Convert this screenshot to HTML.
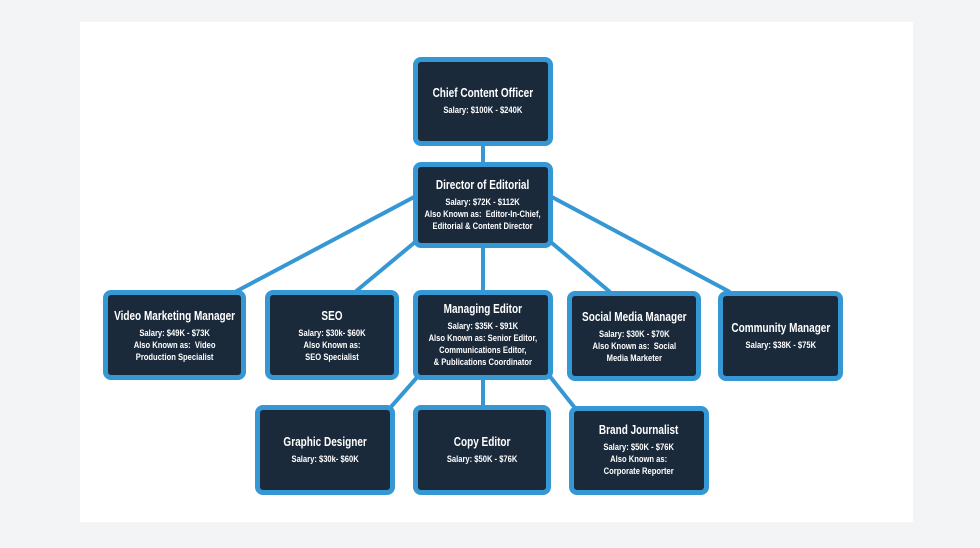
<!DOCTYPE html>
<html><head><meta charset="utf-8"><style>
body{margin:0;width:980px;height:548px;background:#f3f4f6;position:relative;overflow:hidden;font-family:"Liberation Sans",sans-serif;}
.panel{position:absolute;left:80px;top:22px;width:833px;height:500px;background:#fff;}
svg{position:absolute;left:0;top:0;}
.b{position:absolute;box-sizing:border-box;background:#1a2a3b;border:5px solid #3597d4;border-radius:8px;color:#fff;display:flex;flex-direction:column;align-items:center;justify-content:center;text-align:center;font-weight:bold;}
.in{transform:scaleX(0.8);white-space:nowrap;display:flex;flex-direction:column;align-items:center;}
.t{font-size:12.5px;margin-bottom:5px;}
.s{font-size:9.5px;line-height:12px}
</style></head><body>
<div class="panel"></div>
<svg width="980" height="548"><g stroke="#3597d4" stroke-width="4" fill="none">
<line x1="483" y1="146" x2="483" y2="163"/>
<line x1="416" y1="196" x2="235" y2="292"/>
<line x1="420" y1="238" x2="355" y2="292"/>
<line x1="483" y1="246" x2="483" y2="292"/>
<line x1="546" y1="238" x2="610" y2="292"/>
<line x1="550" y1="196" x2="730" y2="292"/>
<line x1="420" y1="374" x2="390" y2="408"/>
<line x1="483" y1="378" x2="483" y2="407"/>
<line x1="548" y1="374" x2="575" y2="408"/>
</g></svg>
<div class="b" style="left:413px;top:57px;width:140px;height:89px"><div class="in"><div class="t">Chief Content Officer</div><div class="s">Salary: $100K - $240K</div></div></div>
<div class="b" style="left:413px;top:162px;width:140px;height:86px"><div class="in"><div class="t">Director of Editorial</div><div class="s">Salary: $72K - $112K<br>Also Known as:&nbsp; Editor-In-Chief,<br>Editorial &amp; Content Director</div></div></div>
<div class="b" style="left:103px;top:290px;width:143px;height:90px;justify-content:flex-start;padding-top:14px"><div class="in"><div class="t">Video Marketing Manager</div><div class="s">Salary: $49K - $73K<br>Also Known as:&nbsp; Video<br>Production Specialist</div></div></div>
<div class="b" style="left:265px;top:290px;width:134px;height:90px;justify-content:flex-start;padding-top:14px"><div class="in"><div class="t">SEO</div><div class="s">Salary: $30k- $60K<br>Also Known as:<br>SEO Specialist</div></div></div>
<div class="b" style="left:413px;top:290px;width:140px;height:90px"><div class="in"><div class="t">Managing Editor</div><div class="s">Salary: $35K - $91K<br>Also Known as: Senior Editor,<br>Communications Editor,<br>&amp; Publications Coordinator</div></div></div>
<div class="b" style="left:567px;top:291px;width:134px;height:90px;justify-content:flex-start;padding-top:14px"><div class="in"><div class="t">Social Media Manager</div><div class="s">Salary: $30K - $70K<br>Also Known as:&nbsp; Social<br>Media Marketer</div></div></div>
<div class="b" style="left:718px;top:291px;width:125px;height:90px"><div class="in"><div class="t">Community Manager</div><div class="s">Salary: $38K - $75K</div></div></div>
<div class="b" style="left:255px;top:405px;width:140px;height:90px"><div class="in"><div class="t">Graphic Designer</div><div class="s">Salary: $30k- $60K</div></div></div>
<div class="b" style="left:413px;top:405px;width:138px;height:90px"><div class="in"><div class="t">Copy Editor</div><div class="s">Salary: $50K - $76K</div></div></div>
<div class="b" style="left:569px;top:406px;width:140px;height:89px"><div class="in"><div class="t">Brand Journalist</div><div class="s">Salary: $50K - $76K<br>Also Known as:<br>Corporate Reporter</div></div></div>
</body></html>
